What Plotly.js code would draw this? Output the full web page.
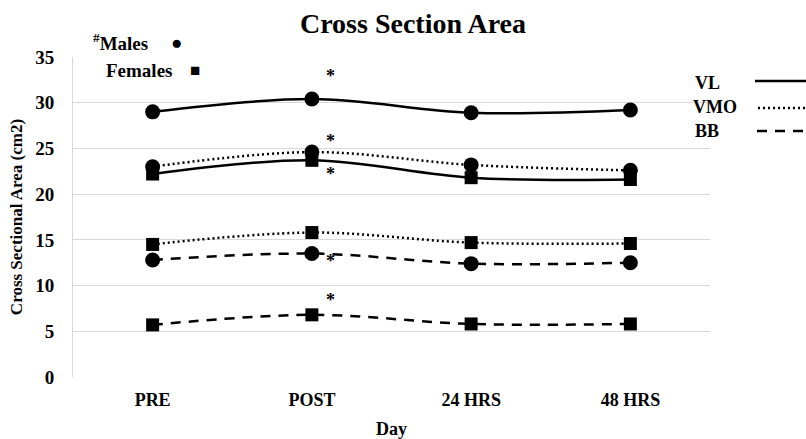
<!DOCTYPE html>
<html><head><meta charset="utf-8">
<script src="https://cdn.plot.ly/plotly-3.0.1.min.js"></script>
<style>html,body{margin:0;padding:0;background:#fff;}#chart{width:806px;height:439px;}</style>
</head><body><div id="chart"></div>
<script>
const days = ["PRE", "POST", "24 HRS", "48 HRS"];
const vlMales = [29.0, 30.4, 28.9, 29.2];
const vlFemales = [22.2, 23.7, 21.8, 21.6];
const vmoMales = [23.0, 24.6, 23.2, 22.6];
const vmoFemales = [14.5, 15.8, 14.7, 14.6];
const bbMales = [12.8, 13.5, 12.4, 12.5];
const bbFemales = [5.7, 6.8, 5.8, 5.8];
const sigX = [1.12, 1.12, 1.12, 1.12, 1.12];
const sigY = [32.9, 25.8, 22.2, 12.7, 8.4];
const yTicks = [0, 5, 10, 15, 20, 25, 30, 35];

const L = 73, R = 710, T = 57, B = 377;
const px = v => (v - L) / (R - L);
const py = v => (B - v) / (B - T);
const serif = "Liberation Serif, Times New Roman, serif";

function tr(y, dash, sym, size) {
  return {x: days, y: y, type: "scatter", mode: "lines+markers",
    line: {color: "#000", width: 2.5, shape: "spline", dash: dash},
    marker: {symbol: sym, size: size, color: "#000"}, showlegend: false, hoverinfo: "skip"};
}
const data = [
  tr(vlMales, "solid", "circle", 15),
  tr(vlFemales, "solid", "square", 13),
  tr(vmoMales, "2px,3px", "circle", 15),
  tr(vmoFemales, "2px,3px", "square", 13),
  tr(bbMales, "10px,8px", "circle", 15),
  tr(bbFemales, "10px,8px", "square", 13)
];

const ann = [];
for (let i = 0; i < sigX.length; i++) {
  ann.push({x: sigX[i], y: sigY[i], xref: "x", yref: "y", text: "*", showarrow: false,
    font: {family: serif, size: 18, color: "#000", weight: "bold"}});
}
function txt(x, y, t, size, xanchor) {
  ann.push({x: px(x), y: py(y), xref: "paper", yref: "paper", text: t, showarrow: false,
    xanchor: xanchor || "left", yanchor: "middle", font: {family: serif, size: size, color: "#000", weight: "bold"}});
}
txt(91, 42, "<sup>#</sup>Males", 19);
txt(169, 42, "●", 19);
txt(104, 70, "Females", 19);
txt(188, 70, "■", 17);
txt(693, 83, "VL", 18);
txt(691, 107, "VMO", 18);
txt(693, 131, "BB", 18);

const shapes = [
  {type: "line", xref: "paper", yref: "paper", x0: px(755), x1: px(806), y0: py(81), y1: py(81), line: {color: "#000", width: 2.5}},
  {type: "line", xref: "paper", yref: "paper", x0: px(758), x1: px(806), y0: py(108), y1: py(108), line: {color: "#000", width: 2.5, dash: "2px,3px"}},
  {type: "line", xref: "paper", yref: "paper", x0: px(757), x1: px(806), y0: py(131), y1: py(131), line: {color: "#000", width: 2.5, dash: "10px,8px"}}
];

const layout = {
  width: 806, height: 439,
  margin: {l: L, r: 806 - R, t: T, b: 439 - B, pad: 0},
  paper_bgcolor: "#fff", plot_bgcolor: "#fff",
  title: {text: "Cross Section Area", x: 413 / 806, xanchor: "center", y: 1 - 23 / 439, yanchor: "middle",
    font: {family: serif, size: 28, color: "#000", weight: "bold"}},
  xaxis: {type: "category", range: [-0.5, 3.5], showgrid: false, zeroline: false,
    showline: false, ticks: "", ticklabelstandoff: 10,
    tickfont: {family: serif, size: 18, color: "#000", weight: "bold"},
    title: {text: "Day", font: {family: serif, size: 18, color: "#000", weight: "bold"}, standoff: 18}},
  yaxis: {range: [0, 35], tickvals: yTicks, ticktext: yTicks.map(String), showgrid: true, gridcolor: "#d9d9d9", gridwidth: 1,
    zeroline: false, showline: true, linecolor: "#d9d9d9", linewidth: 1, ticks: "", ticklabelstandoff: 14,
    tickfont: {family: serif, size: 19, color: "#000", weight: "bold"},
    title: {text: "Cross Sectional Area (cm2)", font: {family: serif, size: 17, color: "#000", weight: "bold"}, standoff: 8}},
  annotations: ann, shapes: shapes
};
Plotly.newPlot("chart", data, layout, {displayModeBar: false, staticPlot: true});
</script></body></html>
